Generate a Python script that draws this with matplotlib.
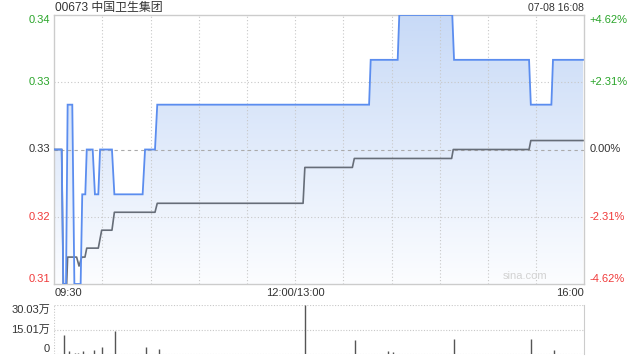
import numpy as np
import matplotlib
matplotlib.use("Agg")
import matplotlib.pyplot as plt
from matplotlib.patches import Polygon
from matplotlib.colors import LinearSegmentedColormap

# ---------------- data ----------------
title = "00673 中国卫生集团"
stamp = "07-08 16:08"
prev_close = 0.325

# price line vertices (minutes since 09:30, trading minutes, lunch removed)
price_t = [0, 4.6, 5.6, 7.3, 8.3, 11.2, 12.5, 16.4, 17.4, 19.3, 20.2, 23.9, 25.3, 27.4,
           28.5, 35.9, 37.4, 55.0, 56.5, 62.7, 64.1, 196.0, 197.0, 213.8, 214.8, 247.8,
           248.9, 295.6, 296.7, 309.5, 310.5, 329.2]
price_v = [0.325, 0.325, 0.31, 0.31, 0.33, 0.33, 0.31, 0.31, 0.32, 0.32, 0.325, 0.325, 0.32, 0.32,
           0.325, 0.325, 0.32, 0.32, 0.325, 0.325, 0.33, 0.33, 0.335, 0.335, 0.34, 0.34,
           0.335, 0.335, 0.33, 0.33, 0.335, 0.335]

# average price line vertices
avg_t = [0, 4.6, 5.6, 7.7, 8.3, 13.9, 15.4, 17.1, 19.1, 20.2, 27.4, 29.5, 35.9, 37.4,
         62.7, 64.1, 154.9, 156.0, 185.6, 186.8, 247.4, 248.4, 295.6, 296.7, 329.2]
avg_v = [0.325, 0.325, 0.31, 0.31, 0.313, 0.313, 0.312, 0.313, 0.313, 0.314, 0.314, 0.316, 0.316, 0.318,
         0.318, 0.319, 0.319, 0.323, 0.323, 0.324, 0.324, 0.325, 0.325, 0.326, 0.326]

# volume (万股)
vol_t = [6, 9, 13, 15, 18, 25, 30, 38, 57, 65, 156, 187, 208, 211, 249, 297, 311]
vol_v = [11.6, 1.8, 0.8, 0.8, 1.8, 2.5, 4.3, 14.3, 4.3, 3.1, 30.03, 8.6, 1.8, 1.2, 9.2, 9.2, 2.5]

price_ticks = [0.31, 0.3175, 0.325, 0.3325, 0.34]
price_labels = ["0.31", "0.32", "0.33", "0.33", "0.34"]
pct_labels = ["-4.62%", "-2.31%", "0.00%", "+2.31%", "+4.62%"]
vol_ticks = [0, 15.01, 30.03]
vol_labels = ["0", "15.01万", "30.03万"]
time_ticks = [0, 150, 330]
time_labels = ["09:30", "12:00/13:00", "16:00"]
grid_minutes = list(range(0, 331, 30))

# ---------------- style ----------------
GREEN = "#2aa52a"
RED = "#f03a3a"
BLACK = "#333333"
FRAME = "#cccccc"
FONT = ["Liberation Sans", "Noto Sans CJK SC", "DejaVu Sans"]
plt.rcParams["font.family"] = FONT

fig = plt.figure(figsize=(6.4, 3.6), dpi=100)
W, H = 640, 360
def box(x0, y0, x1, y1):
    return [x0 / W, 1 - y1 / H, (x1 - x0) / W, (y1 - y0) / H]

ax = fig.add_axes(box(54.3, 15, 584.3, 284))
axv = fig.add_axes(box(54.3, 305, 584.3, 354))

ymin, ymax = 0.31, 0.34
ax.set_xlim(0, 330)
ax.set_ylim(ymin, ymax)

# gradient fill under price line
verts = [(price_t[0], ymin)] + list(zip(price_t, price_v)) + [(price_t[-1], ymin)]
poly = Polygon(verts, closed=True, facecolor="none", edgecolor="none")
ax.add_patch(poly)
cmap = LinearSegmentedColormap.from_list("g", ["#fcfdff", "#c8daf7"])
grad = np.linspace(0, 1, 256).reshape(-1, 1)
im = ax.imshow(grad, extent=[0, 330, ymin, ymax], origin="lower", aspect="auto",
               cmap=cmap, zorder=1, interpolation="bilinear")
im.set_clip_path(poly)
ax.set_xlim(0, 330)
ax.set_ylim(ymin, ymax)

# grid
for m in grid_minutes[1:-1]:
    ax.axvline(m, color="#c8c8c8", lw=0.8, ls=(0, (1, 2)), zorder=2)
for v in [price_ticks[1], price_ticks[3]]:
    ax.axhline(v, color="#c8c8c8", lw=0.8, ls=(0, (1, 2)), zorder=2)
ax.axhline(prev_close, color="#aaaaaa", lw=0.8, ls=(0, (3, 3)), zorder=2)

ax.plot(price_t, price_v, color="#5b8def", lw=1.3, zorder=4, solid_joinstyle="miter")
ax.plot(avg_t, avg_v, color="#666d78", lw=1.2, zorder=3)

for s in ax.spines.values():
    s.set_color(FRAME)
    s.set_linewidth(1)

ax.set_yticks(price_ticks)
ax.set_yticklabels(price_labels, fontsize=8)
ax.tick_params(axis="y", length=0, pad=3)
lab_cols = [RED, RED, BLACK, GREEN, GREEN]
vas = ["bottom", "center", "center", "center", "top"]
for lbl, c, va in zip(ax.get_yticklabels(), lab_cols, vas):
    lbl.set_color(c)
    lbl.set_va(va)

ax.set_xticks(time_ticks)
ax.set_xticklabels(time_labels, fontsize=8, color=BLACK)
ax.tick_params(axis="x", length=0, pad=3)
for lbl, ha in zip(ax.get_xticklabels(), ["left", "center", "right"]):
    lbl.set_ha(ha)

axr = ax.twinx()
axr.set_ylim(ymin, ymax)
axr.set_yticks(price_ticks)
axr.set_yticklabels(pct_labels, fontsize=8)
axr.tick_params(axis="y", length=0, pad=4)
for lbl, c, va in zip(axr.get_yticklabels(), lab_cols, vas):
    lbl.set_color(c)
    lbl.set_va(va)
for s in axr.spines.values():
    s.set_visible(False)

ax.text(0.93, 0.012, "sina.com", transform=ax.transAxes, ha="right", va="bottom",
        fontsize=8, color="#d2d2d2", zorder=5)

fig.text(55 / W, 1 - 8 / H, title, ha="left", va="center", fontsize=8.6, color=BLACK,
         family=FONT)
fig.text(584 / W, 1 - 8 / H, stamp, ha="right", va="center", fontsize=7.6, color=BLACK)

# ---------------- volume ----------------
axv.set_xlim(0, 330)
axv.set_ylim(0, vol_ticks[-1])
axv.vlines(vol_t, 0, vol_v, color="#555555", lw=1)
for v in vol_ticks:
    axv.axhline(v, color="#c8c8c8", lw=0.8, ls=(0, (1, 1.5)), zorder=0)
axv.axvline(0, color="#c8c8c8", lw=0.8, ls=(0, (1, 1.5)))
for k, s in axv.spines.items():
    s.set_visible(k == "right")
    s.set_color(FRAME)
axv.set_xticks([])
axv.set_yticks(vol_ticks)
axv.set_yticklabels(vol_labels, fontsize=8, color=BLACK)
axv.tick_params(axis="y", length=0, pad=3)
for lbl, va in zip(axv.get_yticklabels(), ["bottom", "center", "top"]):
    lbl.set_va(va)

fig.savefig("out.png", dpi=100)
